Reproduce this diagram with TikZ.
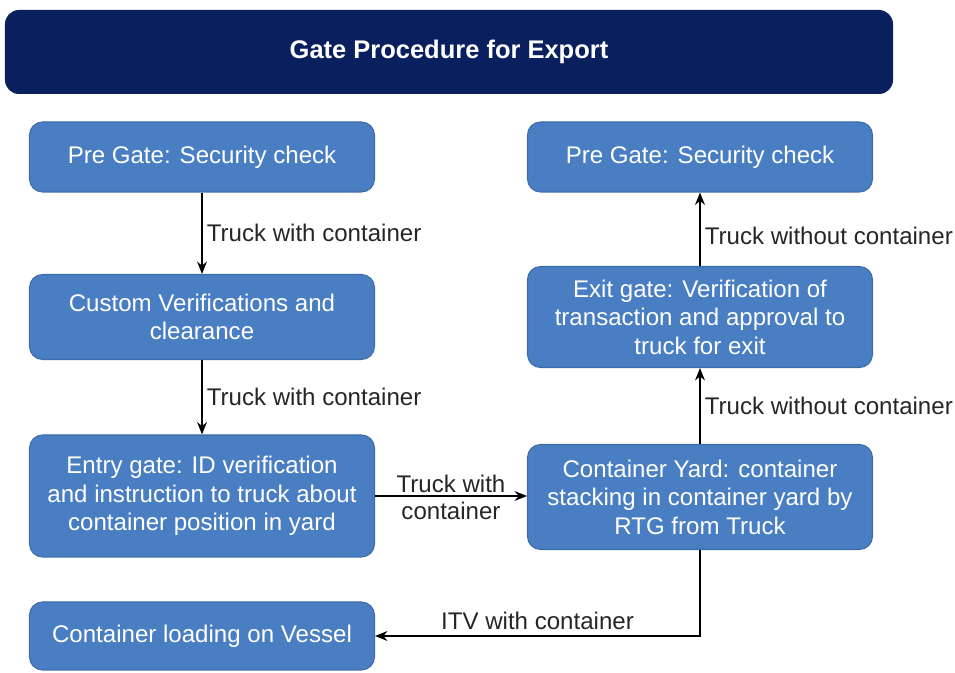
\documentclass[tikz,border=0pt]{standalone}
\usepackage{fontspec}
\setmainfont{Liberation Sans}
\usepackage{tikz}
\usetikzlibrary{arrows.meta}

\definecolor{navy}{RGB}{10,31,94}
\definecolor{boxblue}{RGB}{74,126,194}
\definecolor{boxedge}{RGB}{62,108,170}

\tikzset{
  titlebox/.style={fill=navy, rounded corners=0.28cm, text=white,
    minimum width=17.76cm, minimum height=1.68cm,
    font=\fontsize{14.5}{17}\selectfont\bfseries},
  block/.style={fill=boxblue, draw=boxedge, line width=0.6pt, rounded corners=0.26cm,
    text=white, align=center, minimum width=6.9cm, inner sep=2pt,
    font=\fontsize{13.7}{16.2}\selectfont},
  flow/.style={draw, line width=1.5pt, -{Stealth[length=7pt,width=5.5pt]}},
  lbl/.style={font=\fontsize{13.7}{15.5}\selectfont, text=black!85, inner sep=2pt}
}

\begin{document}
\begin{tikzpicture}
\useasboundingbox (0,0) rectangle (19.1,-13.46);

\node[titlebox] (title) at (8.98,-1.04) {Gate Procedure for Export};

% left column
\node[block, minimum height=1.4cm] (pregateA) at (4.04,-3.14) {Pre Gate: Security check};
\node[block, minimum height=1.7cm] (custom) at (4.04,-6.34) {Custom Verifications and\\clearance};
\node[block, minimum height=2.44cm] (entry) at (4.04,-9.92) {Entry gate: ID verification\\and instruction to truck about\\container position in yard};
\node[block, minimum height=1.36cm] (loading) at (4.04,-12.72) {Container loading on Vessel};

% right column
\node[block, minimum height=1.4cm] (pregateB) at (14.0,-3.14) {Pre Gate: Security check};
\node[block, minimum height=2.02cm] (exit) at (14.0,-6.34) {Exit gate: Verification of\\transaction and approval to\\truck for exit};
\node[block, minimum height=2.1cm] (yard) at (14.0,-9.94) {Container Yard: container\\stacking in container yard by\\RTG from Truck};

% connectors
\draw[flow] (pregateA) -- node[lbl, anchor=west] {Truck with container} (custom);
\draw[flow] (custom) -- node[lbl, anchor=west] {Truck with container} (entry);
\draw[flow] (entry.east) -- node[lbl, align=center, yshift=-1pt] {Truck with\\container} (entry.east -| yard.west);
\draw[flow] (yard) -- node[lbl, anchor=west] {Truck without container} (exit);
\draw[flow] (exit) -- node[lbl, anchor=west, yshift=-4pt] {Truck without container} (pregateB);
\draw[flow] (yard.south) |- node[lbl, pos=0.75, anchor=south, yshift=1pt] {ITV with container} (loading.east);
\end{tikzpicture}
\end{document}
